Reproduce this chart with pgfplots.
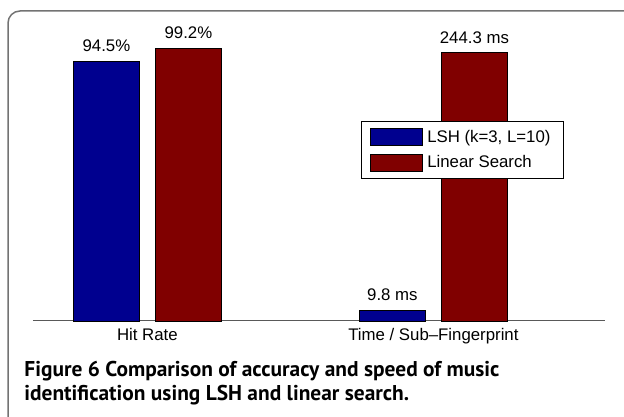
\documentclass[border=0pt]{standalone}
\usepackage{pgfplots}
\pgfplotsset{compat=1.18}
\usepackage{fontspec}
\setmainfont{Liberation Sans}
\newfontfamily\capfont{PT Sans}
\definecolor{lshblue}{RGB}{0,0,143}
\definecolor{linred}{RGB}{128,0,0}
\pgfplotsset{mylegend/.style={legend image code/.code={\draw[##1,draw=black,line width=0.5pt] (0pt,-4.25pt) rectangle (26pt,4.25pt);}}}
\begin{document}
\begin{tikzpicture}
\useasboundingbox (0,0) rectangle (312pt,208pt);
\draw[black!55, line width=0.75pt, rounded corners=6pt] (4pt,-10pt) -- (4pt,202.5pt) -- (330pt,202.5pt);
\begin{axis}[
  scale only axis, width=286pt, height=151.25pt,
  at={(16.5pt,47.5pt)}, anchor=south west,
  xmin=0.6, xmax=2.6, ymin=0, ymax=110,
  axis x line*=bottom, axis y line=none,
  x axis line style={black!65, line width=0.5pt, -},
  xtick={1,2}, xticklabels={Hit Rate, Time / Sub--Fingerprint},
  major tick length=0pt,
  xticklabel style={font=\fontsize{8.4}{10}\selectfont, yshift=0pt},
  ybar, bar width=33pt,
  nodes near coords, point meta=explicit symbolic,
  nodes near coords style={font=\fontsize{8.4}{10}\selectfont, yshift=1pt},
  clip=false,
  legend style={at={(0.573,0.66)}, anchor=north west, draw=black, line width=0.5pt,
    font=\fontsize{8.4}{10}\selectfont, cells={anchor=west}, row sep=1pt,
    inner xsep=4.5pt, inner ysep=2pt},
]
\addplot[fill=lshblue, draw=black, line width=0.4pt, bar shift=-20.5pt, mylegend] coordinates {(1,94.5) [94.5\%] (2,3.92) [9.8 ms]};
\addlegendentry{LSH (k=3, L=10)}
\addplot[fill=linred, draw=black, line width=0.4pt, bar shift=20.5pt, mylegend] coordinates {(1,99.2) [99.2\%] (2,97.72) [244.3 ms]};
\addlegendentry{Linear Search}
\end{axis}
\node[anchor=base west, inner sep=0, font=\capfont\bfseries\fontsize{10.7}{13}\selectfont] at (12pt,19.5pt) {Figure 6 Comparison of accuracy and speed of music};
\node[anchor=base west, inner sep=0, font=\capfont\bfseries\fontsize{10.7}{13}\selectfont] at (12pt,7.5pt) {identification using LSH and linear search.};
\end{tikzpicture}
\end{document}
